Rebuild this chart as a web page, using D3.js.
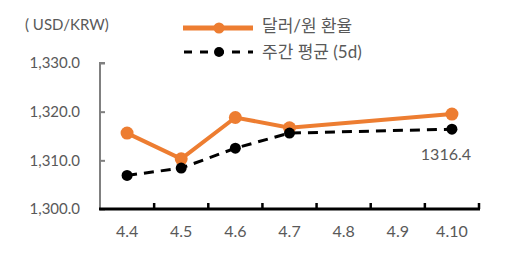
<!DOCTYPE html>
<html>
<head>
<meta charset="utf-8">
<script src="https://cdn.jsdelivr.net/npm/d3@7"></script>
<style>
  body { margin: 0; background: #fff; }
  text { font-family: Lato, "Noto Sans CJK KR", sans-serif; }
</style>
</head>
<body>
<div id="chart"></div>
<script>
const width = 523;
const height = 263;

const categories = ["4.4", "4.5", "4.6", "4.7", "4.8", "4.9", "4.10"];
const rateValues = [1315.6, 1310.3, 1318.8, 1316.7, null, null, 1319.5];
const avgValues = [1306.9, 1308.4, 1312.5, 1315.6, null, null, 1316.4];
const yTicks = [1300, 1310, 1320, 1330];

const svg = d3.select("#chart")
  .append("svg")
  .attr("width", width)
  .attr("height", height);

const x = d3.scaleBand().domain(categories).range([100, 479]);
const y = d3.scaleLinear().domain([1300, 1330]).range([209, 63]);

// y axis
const yAxis = svg.append("g")
  .attr("transform", "translate(100,0)")
  .call(d3.axisRight(y).tickValues(yTicks).tickSize(5).tickFormat(""));
yAxis.selectAll("line, path").attr("stroke", "#808080").attr("stroke-width", 2);
yAxis.select(".domain").attr("d", "M5,63H0V209");

svg.append("g")
  .selectAll("text")
  .data(yTicks)
  .join("text")
  .attr("x", 80)
  .attr("y", d => y(d))
  .attr("dy", "0.35em")
  .attr("text-anchor", "end")
  .attr("fill", "#595959")
  .attr("font-size", 15)
  .text(d => d3.format(",.1f")(d));

// x axis
const xAxis = svg.append("g").attr("transform", "translate(0,209)");
xAxis.append("line")
  .attr("x1", 99).attr("x2", 480)
  .attr("stroke", "#000").attr("stroke-width", 3);
xAxis.selectAll(".tick")
  .data(categories)
  .join("line")
  .attr("x1", d => x(d) + x.bandwidth())
  .attr("x2", d => x(d) + x.bandwidth())
  .attr("y1", 0).attr("y2", -6)
  .attr("stroke", "#000").attr("stroke-width", 2.5);
xAxis.selectAll("text")
  .data(categories)
  .join("text")
  .attr("x", d => x(d) + x.bandwidth() / 2)
  .attr("y", 28)
  .attr("text-anchor", "middle")
  .attr("fill", "#595959")
  .attr("font-size", 16)
  .text(d => d);

svg.append("text")
  .attr("x", 25).attr("y", 30)
  .attr("fill", "#595959")
  .attr("font-size", 15)
  .text("( USD/KRW)");

const cx = i => x(categories[i]) + x.bandwidth() / 2;
const points = vals => vals.map((v, i) => ({ v, i })).filter(d => d.v != null);
const line = d3.line().x(d => cx(d.i)).y(d => y(d.v));

// 5d average
svg.append("path")
  .datum(points(avgValues))
  .attr("fill", "none")
  .attr("stroke", "#000")
  .attr("stroke-width", 3)
  .attr("stroke-dasharray", "10,7")
  .attr("d", line);

svg.append("path")
  .datum(points(rateValues))
  .attr("fill", "none")
  .attr("stroke", "#ED7D31")
  .attr("stroke-width", 4)
  .attr("d", line);

svg.append("g")
  .selectAll("circle")
  .data(points(rateValues))
  .join("circle")
  .attr("cx", d => cx(d.i))
  .attr("cy", d => y(d.v))
  .attr("r", 6.5)
  .attr("fill", "#ED7D31");

svg.append("g")
  .selectAll("circle")
  .data(points(avgValues))
  .join("circle")
  .attr("cx", d => cx(d.i))
  .attr("cy", d => y(d.v))
  .attr("r", 5.5)
  .attr("fill", "#000");

// last value label
const last = avgValues[avgValues.length - 1];
svg.append("text")
  .attr("x", cx(categories.length - 1) - 6)
  .attr("y", y(last) + 31)
  .attr("text-anchor", "middle")
  .attr("fill", "#595959")
  .attr("font-size", 16)
  .text(last.toFixed(1));

// legend
const legend = svg.append("g");
legend.append("line")
  .attr("x1", 183).attr("x2", 253).attr("y1", 28).attr("y2", 28)
  .attr("stroke", "#ED7D31").attr("stroke-width", 5);
legend.append("circle").attr("cx", 219).attr("cy", 28).attr("r", 5.5).attr("fill", "#ED7D31");
legend.append("text")
  .attr("x", 262).attr("y", 26).attr("dy", "0.35em")
  .attr("fill", "#595959").attr("font-size", 17)
  .text("달러/원 환율");
legend.append("line")
  .attr("x1", 184).attr("x2", 253).attr("y1", 52).attr("y2", 52)
  .attr("stroke", "#000").attr("stroke-width", 3).attr("stroke-dasharray", "8,8");
legend.append("circle").attr("cx", 219).attr("cy", 52).attr("r", 5).attr("fill", "#000");
legend.append("text")
  .attr("x", 262).attr("y", 52).attr("dy", "0.35em")
  .attr("fill", "#595959").attr("font-size", 17)
  .text("주간 평균 (5d)");
</script>
</body>
</html>
